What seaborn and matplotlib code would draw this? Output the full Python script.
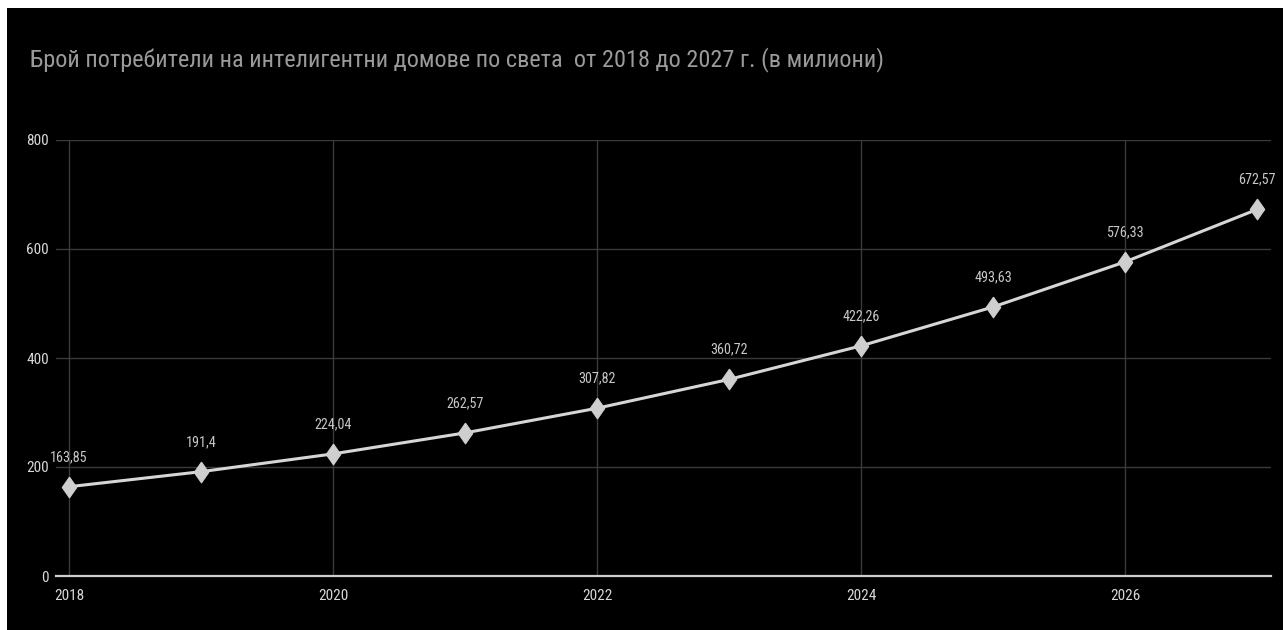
import matplotlib
matplotlib.use("Agg")
import matplotlib.pyplot as plt
from matplotlib.patches import Rectangle
import seaborn as sns
import pandas as pd

years = [2018, 2019, 2020, 2021, 2022, 2023, 2024, 2025, 2026, 2027]
users = [163.85, 191.4, 224.04, 262.57, 307.82, 360.72, 422.26, 493.63, 576.33, 672.57]
value_labels = ["163,85", "191,4", "224,04", "262,57", "307,82", "360,72",
                "422,26", "493,63", "576,33", "672,57"]
x_ticks = [2018, 2020, 2022, 2024, 2026]
y_ticks = [0, 200, 400, 600, 800]
title = "Брой потребители на интелигентни домове по света  от 2018 до 2027 г. (в милиони)"

df = pd.DataFrame({"year": years, "users": users})

sns.set_theme(style="dark")
plt.rcParams["font.family"] = ["Roboto Condensed", "DejaVu Sans"]

W, H = 1283, 630
fig = plt.figure(figsize=(W / 100, H / 100), dpi=100, facecolor="white")
# black canvas with a thin white strip on top and left
fig.patches.append(Rectangle((7 / W, 0), 1 - 7 / W, (H - 8) / H,
                             transform=fig.transFigure, facecolor="black",
                             edgecolor="none", zorder=-10))

left, right = 56 / W, 1271 / W
bottom, top = (H - 576) / H, (H - 140) / H
ax = fig.add_axes([left, bottom, right - left, top - bottom])
ax.set_facecolor("black")

# tall diamond marker
diamond = [(0, 1), (0.7, 0), (0, -1), (-0.7, 0), (0, 1)]

sns.lineplot(data=df, x="year", y="users", ax=ax, color="#d6d6d6",
             linewidth=2.2, marker=diamond, markersize=15,
             markeredgecolor="#cfcfcf", markerfacecolor="#cfcfcf", zorder=5)

ax.set_xlim(2018 - 13 / 132, 2027 + 14 / 132)
ax.set_ylim(0, 800)

ax.set_xticks(x_ticks)
ax.set_xticklabels([str(y) for y in x_ticks])
ax.set_yticks(y_ticks)
ax.set_yticklabels([str(v) for v in y_ticks])
ax.grid(True, color="#3a3a3a", linewidth=1)
ax.tick_params(axis="both", length=0, colors="#d8d8d8", labelsize=11)
ax.tick_params(axis="x", pad=9)
ax.tick_params(axis="y", pad=5)
ax.set_xlabel("")
ax.set_ylabel("")

for s in ["top", "right", "left"]:
    ax.spines[s].set_visible(False)
ax.spines["bottom"].set_color("#cfcfcf")
ax.spines["bottom"].set_linewidth(1.6)
ax.spines["bottom"].set_zorder(4)

for x, y, lab in zip(years, users, value_labels):
    ax.annotate(lab, (x, y), xytext=(0, 21.5), textcoords="offset points",
                ha="center", va="center", color="#c8c8c8", fontsize=10.2)

fig.text(30 / W, (H - 60) / H, title, color="#9a9a9a", fontsize=17.5,
         ha="left", va="center")

fig.savefig("out.png", dpi=100, facecolor="white")
